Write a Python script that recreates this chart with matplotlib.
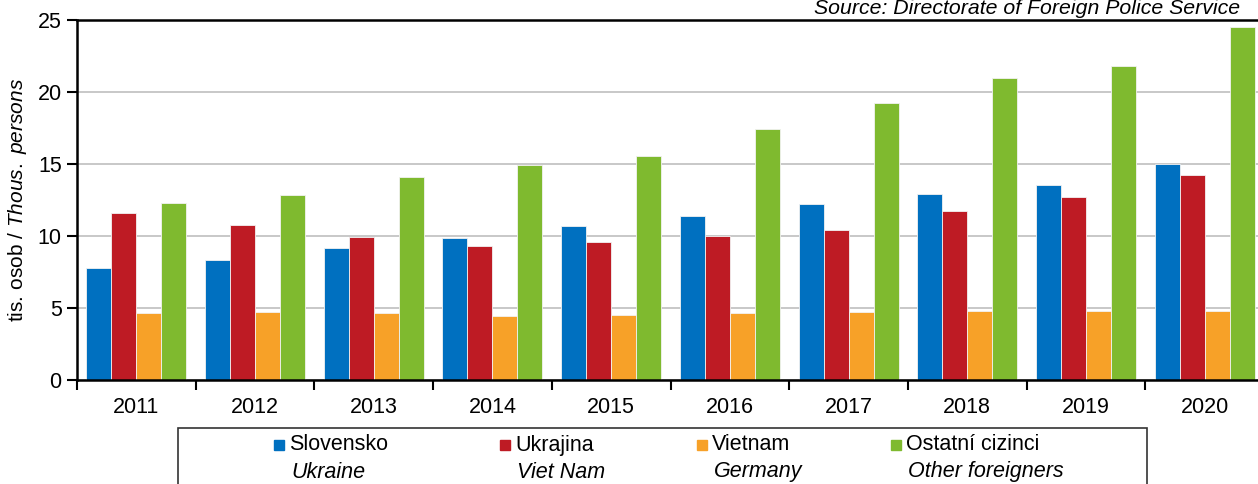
import numpy as np
import matplotlib
matplotlib.use("Agg")
import matplotlib.pyplot as plt
from matplotlib.patches import Rectangle

plt.rcParams['font.family'] = ['Liberation Sans', 'DejaVu Sans']
plt.rcParams['mathtext.fontset'] = 'custom'
plt.rcParams['mathtext.it'] = 'Liberation Sans:italic'
plt.rcParams['mathtext.rm'] = 'Liberation Sans'

# data (thousands of persons)
years = ['2011', '2012', '2013', '2014', '2015', '2016', '2017', '2018', '2019', '2020']
slovensko = [7.8, 8.36, 9.17, 9.83, 10.68, 11.4, 12.2, 12.89, 13.57, 15.0]
ukrajina = [11.6, 10.73, 9.9, 9.3, 9.6, 9.99, 10.43, 11.75, 12.68, 14.27]
vietnam = [4.65, 4.69, 4.62, 4.46, 4.53, 4.64, 4.74, 4.79, 4.79, 4.77]
ostatni = [12.3, 12.87, 14.08, 14.94, 15.56, 17.42, 19.26, 20.95, 21.79, 24.5]

names_cz = ['Slovensko', 'Ukrajina', 'Vietnam', 'Ostatní cizinci']
names_en = ['Ukraine', 'Viet Nam', 'Germany', 'Other foreigners']
colors = ['#0070C0', '#BE1B24', '#F7A128', '#7FBA2F']
series = [slovensko, ukrajina, vietnam, ostatni]

W, H = 1258, 484
fig = plt.figure(figsize=(W / 100, H / 100), dpi=100)
# axes right edge runs past the figure edge (as in the cropped original)
ax = fig.add_axes([77 / W, 1 - 380 / H, (1264 - 77) / W, 360 / H])

x = np.arange(len(years))
bw = 0.2106
for i, (vals, col) in enumerate(zip(series, colors)):
    ax.bar(x + (i - 1.5) * bw, vals, width=bw, color=col,
           edgecolor='#f2f2f2', linewidth=0.6, zorder=2)

ax.set_xlim(-0.5, len(years) - 0.5)
ax.set_ylim(0, 25)
ax.set_yticks([0, 5, 10, 15, 20, 25])
ax.yaxis.grid(True, color='#c4c4c4', linewidth=1.3, zorder=0)
ax.set_axisbelow(True)

ax.set_xticks(np.arange(len(years) + 1) - 0.5)
ax.set_xticklabels([])
ax.set_xticks(x, labels=years, minor=True)
ax.tick_params(axis='x', which='major', length=7, width=1.5, direction='out')
ax.tick_params(axis='x', which='minor', length=0, labelsize=15.5, pad=12)
ax.tick_params(axis='y', length=7, width=1.5, labelsize=15.5, pad=4)

for s in ['left', 'bottom', 'top']:
    ax.spines[s].set_linewidth(1.8)
ax.spines['right'].set_visible(False)

ax.set_ylabel(r'tis. osob / $\it{Thous.\ persons}$', fontsize=15)
ax.yaxis.set_label_coords((29 - 77) / 1187, 0.5)

fig.text(1240 / W, 1 - 14 / H, 'Source: Directorate of Foreign Police Service',
         ha='right', va='baseline', fontsize=15.3, style='italic')

# legend box (two-language labels)
fig.patches.append(Rectangle((178 / W, -0.1), (1147 - 178) / W, 0.1 + (1 - 428 / H),
                             transform=fig.transFigure, fill=False,
                             edgecolor='#333333', linewidth=1.2))
sq_x = [274, 500, 697, 891]
for i in range(4):
    fig.patches.append(Rectangle((sq_x[i] / W, 1 - 450 / H), 10 / W, 10 / H,
                                 transform=fig.transFigure, color=colors[i]))
    fig.text((sq_x[i] + 15) / W, 1 - 445 / H, names_cz[i], ha='left',
             va='center', fontsize=15.5)
    fig.text((sq_x[i] + 17) / W, 1 - 472 / H, names_en[i], ha='left',
             va='center', fontsize=15.5, style='italic')

fig.savefig('out.png', dpi=100)
